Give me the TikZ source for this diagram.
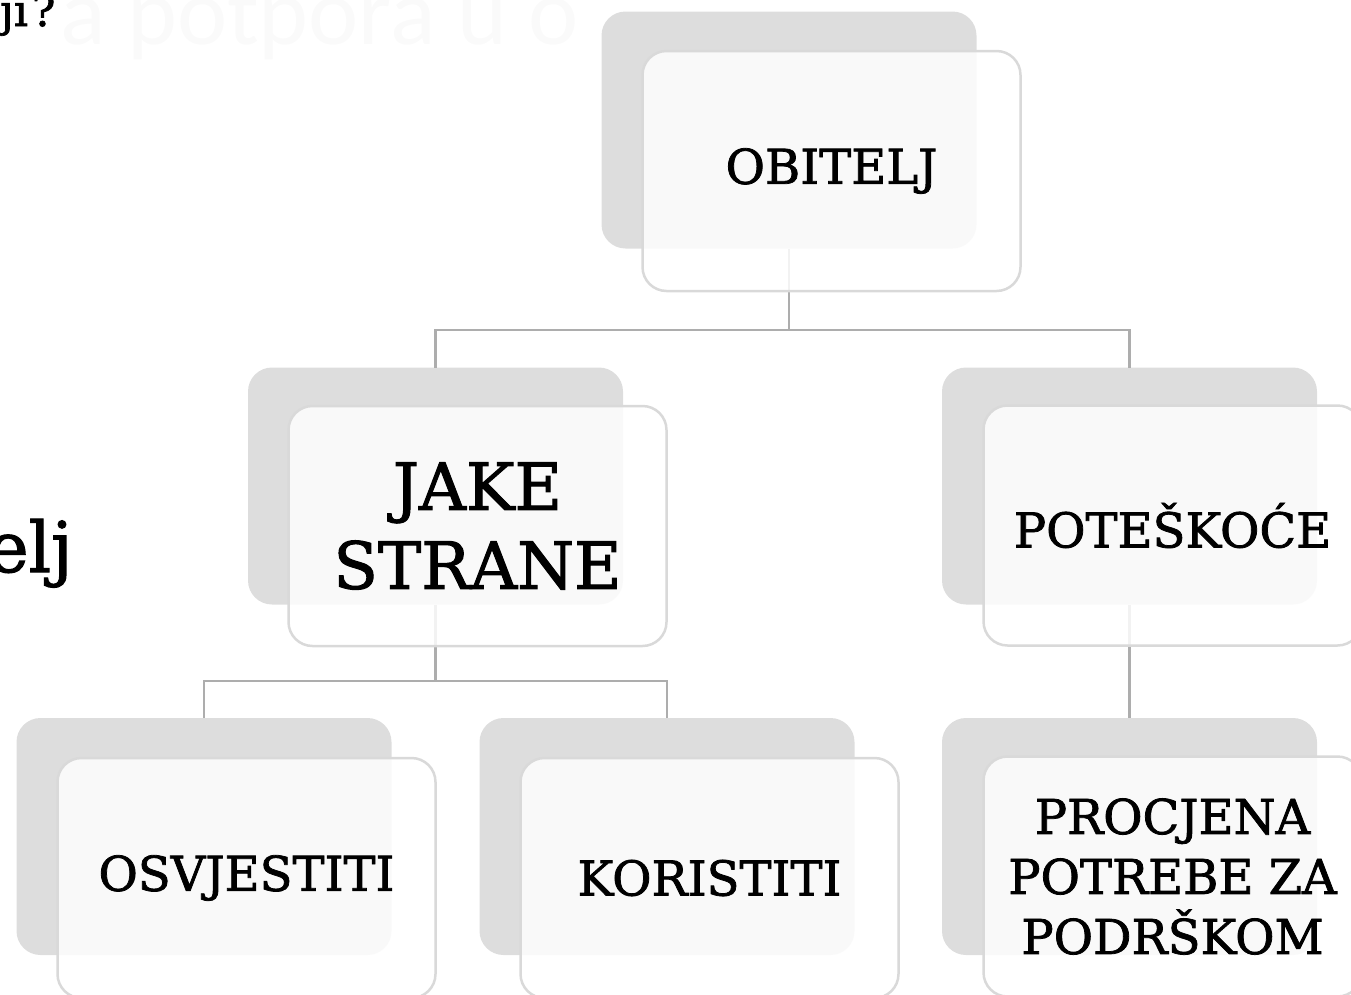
\documentclass[tikz,border=0pt]{standalone}
\usepackage{fontspec}
\setmainfont[FakeBold=1.6]{DejaVu Serif}
\newfontfamily\faintfont{Carlito}
\definecolor{backgray}{HTML}{DDDDDD}
\definecolor{bordergray}{HTML}{D9D9D9}
\definecolor{linegray}{HTML}{ADADAD}
\definecolor{fainttext}{HTML}{FAFAFA}
\tikzset{
  backbox/.style={rectangle, rounded corners=24pt, fill=backgray, minimum width=375pt, minimum height=237pt, inner sep=0pt, outer sep=0pt},
  frontbox/.style={rectangle, rounded corners=24pt, draw=bordergray, line width=2.5pt, fill=white, fill opacity=0.85, draw opacity=1, text opacity=1, minimum width=378pt, minimum height=240pt, inner sep=0pt, outer sep=0pt, align=center, font=\fontsize{48}{60}\selectfont},
  bigtext/.style={font=\fontsize{65}{79}\selectfont},
  conn/.style={draw=linegray, line width=2.5pt},
}
\begin{document}
\begin{tikzpicture}[x=1pt,y=-1pt]
\useasboundingbox (0,0) rectangle (1351,994);
% slide remnants
\node[anchor=base west, inner sep=0pt, text=fainttext, font=\faintfont\fontsize{95}{95}\selectfont] (faint) at (60,44) {a potpora u o};
\node[anchor=base west, inner sep=0pt, font=\fontsize{44}{44}\selectfont] (jiq) at (0,26) {ji\hspace{4pt}?};
\node[anchor=base east, inner sep=0pt, font=\fontsize{70}{70}\selectfont] (elj) at (73,572) {elj};
% back boxes
\node[backbox] (b1) at (789,130) {};
\node[backbox] (b2) at (435.5,486) {};
\node[backbox] (b3) at (1129.5,486) {};
\node[backbox] (b4) at (204,836.5) {};
\node[backbox] (b5) at (667,836.5) {};
\node[backbox] (b6) at (1129.5,836.5) {};
% connectors
\coordinate (j1) at (789,330);
\coordinate (j2) at (435.5,681);
\draw[conn] (b1.south) -- (j1);
\draw[conn] (b2.north) |- (j1) -| (b3.north);
\draw[conn] (b2.south) -- (j2);
\draw[conn] (b4.north) |- (j2) -| (b5.north);
\draw[conn] (b3.south) -- (b6.north);
% front boxes
\node[frontbox] (f1) at (831.5,171) {OBITELJ};
\node[frontbox, bigtext] (f2) at (477.5,526) {JAKE\\STRANE};
\node[frontbox] (f3) at (1172.5,525.5) {POTEŠKOĆE};
\node[frontbox] (f4) at (246.5,878) {OSVJESTITI};
\node[frontbox] (f5) at (709.5,878) {KORISTITI};
\node[frontbox] (f6) at (1172.5,876.5) {PROCJENA\\POTREBE ZA\\PODRŠKOM};
\end{tikzpicture}
\end{document}
